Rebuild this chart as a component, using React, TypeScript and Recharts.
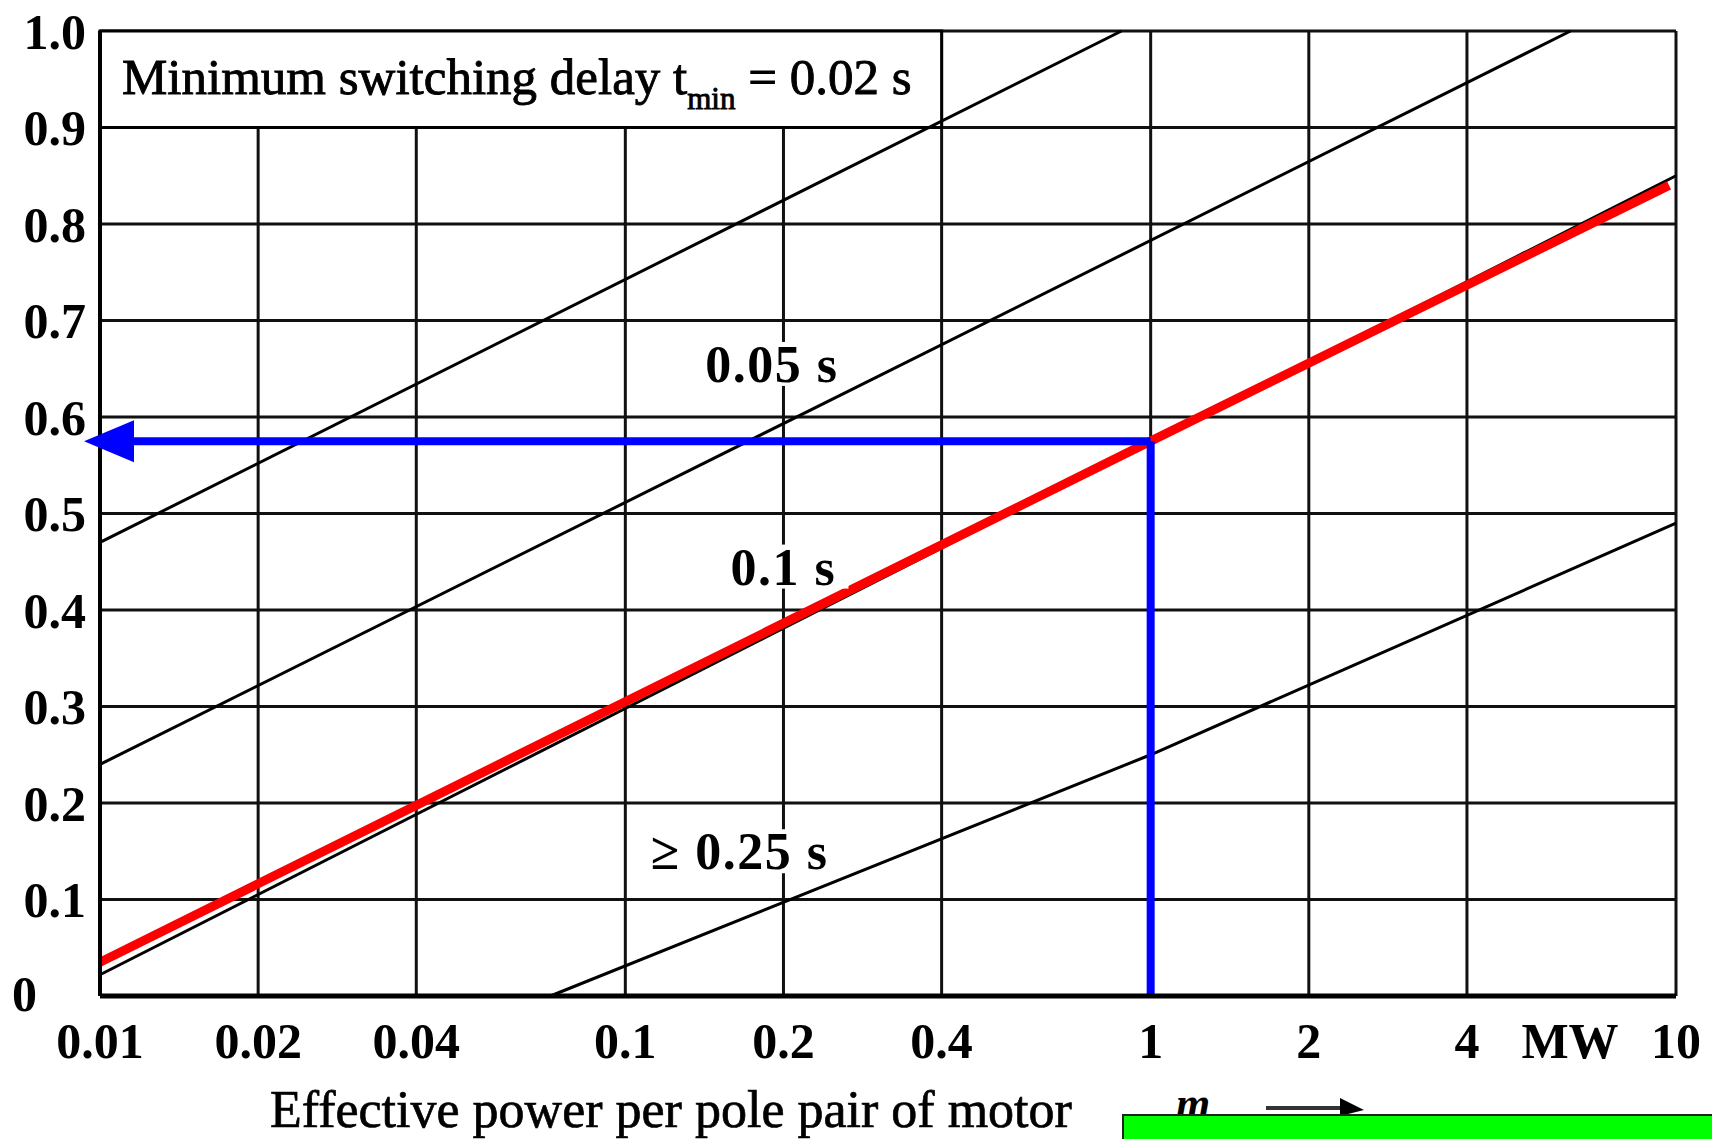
import { LineChart, Line, XAxis, YAxis, CartesianGrid, ReferenceArea, ReferenceDot } from "recharts";

// effective power per pole pair [MW] vs. value
const xTicks = [0.01, 0.02, 0.04, 0.1, 0.2, 0.4, 1, 2, 4, 10];
const yTicks = [0, 0.1, 0.2, 0.3, 0.4, 0.5, 0.6, 0.7, 0.8, 0.9, 1.0];

const curve002 = [{ p: 0.01, v: 0.47 }, { p: 0.88, v: 1.0 }];
const curve005 = [{ p: 0.01, v: 0.24 }, { p: 6.3, v: 1.0 }];
const curve01 = [{ p: 0.01, v: 0.022 }, { p: 10, v: 0.85 }];
const curve025 = [{ p: 0.072, v: 0 }, { p: 1, v: 0.25 }, { p: 10, v: 0.49 }];

const redLine = [{ p: 0.01, v: 0.035 }, { p: 1, v: 0.575 }, { p: 9.7, v: 0.84 }];
const blueVertical = [{ p: 1, v: 0 }, { p: 1, v: 0.575 }];
const blueHorizontal = [{ p: 0.01, v: 0.575 }, { p: 1, v: 0.575 }];

const curveLabels = [
  { text: "0.05 s", p: 0.19, v: 0.655 },
  { text: "0.1 s", p: 0.2, v: 0.445 },
  { text: "\u2265 0.25 s", p: 0.165, v: 0.15 },
];

const FONT = "'Liberation Serif', 'DejaVu Serif', serif";

function XTick({ x, y, payload }: any) {
  const v = payload.value;
  return (
    <g>
      <text x={x} y={y + 60} textAnchor="middle" fontFamily={FONT} fontSize={50} fontWeight={700} fill="#000">
        {String(v)}
      </text>
      {v === 10 && (
        <text x={x - 106} y={y + 60} textAnchor="middle" fontFamily={FONT} fontSize={50} fontWeight={700} fill="#000">
          MW
        </text>
      )}
    </g>
  );
}

function YTick({ x, y, payload }: any) {
  const v = payload.value;
  if (v === 0) {
    return (
      <text x={12} y={y} dy="0.3em" textAnchor="start" fontFamily={FONT} fontSize={50} fontWeight={700} fill="#000">
        0
      </text>
    );
  }
  return (
    <text x={x - 12} y={y} dy="0.35em" textAnchor="end" fontFamily={FONT} fontSize={50} fontWeight={700} fill="#000">
      {v.toFixed(1)}
    </text>
  );
}

function TitleLabel(props: any) {
  const { x, y } = props.viewBox;
  return (
    <text x={x + 22} y={y + 63} fontFamily={FONT} fontSize={51} fill="#000" stroke="#000" strokeWidth={0.9}>
      Minimum switching delay t
      <tspan fontSize={31} dy={15}>min</tspan>
      <tspan fontSize={51} dy={-15}> = 0.02 s</tspan>
    </text>
  );
}

function makeCurveLabel(text: string) {
  return (props: any) => {
    const { x, y, width, height } = props.viewBox;
    const cx = x + width / 2;
    const cy = y + height / 2;
    const w = text.length * 26;
    return (
      <g>
        <rect x={cx - w / 2} y={cy - 22} width={w} height={44} fill="#fff" />
        <text
          x={cx}
          y={cy}
          dy="0.35em"
          textAnchor="middle"
          fontFamily={FONT}
          fontSize={52}
          fontWeight={700}
          letterSpacing={1.5}
          fill="#000"
        >
          {text}
        </text>
      </g>
    );
  };
}

function ArrowDot(props: any) {
  const { cx, cy, index } = props;
  if (index !== 0) return <g key={`ad-${index}`} />;
  return (
    <polygon
      key={`ad-${index}`}
      points={`${cx - 16},${cy} ${cx + 34},${cy - 21} ${cx + 34},${cy + 21}`}
      fill="#0000ff"
    />
  );
}

export default function App() {
  return (
    <div style={{ position: "fixed", left: 0, top: 0, width: 1712, height: 1139, background: "#fff", overflow: "hidden" }}>
      <LineChart width={1712} height={1139} margin={{ top: 31, right: 36, bottom: 0, left: 0 }}>
        <CartesianGrid stroke="#111" strokeWidth={3} />
        <XAxis
          dataKey="p"
          type="number"
          scale="log"
          domain={[0.01, 10]}
          ticks={xTicks}
          height={143}
          tickSize={0}
          tickLine={false}
          axisLine={{ stroke: "#000", strokeWidth: 5 }}
          tick={<XTick />}
          interval={0}
        />
        <YAxis
          dataKey="v"
          type="number"
          domain={[0, 1]}
          ticks={yTicks}
          width={100}
          tickSize={0}
          tickLine={false}
          axisLine={{ stroke: "#000", strokeWidth: 4 }}
          tick={<YTick />}
          interval={0}
        />
        <ReferenceArea
          x1={0.01}
          x2={0.4}
          y1={0.9}
          y2={1.0}
          fill="#fff"
          fillOpacity={1}
          stroke="#000"
          strokeWidth={3}
          ifOverflow="visible"
          label={TitleLabel}
        />
        <Line data={curve002} dataKey="v" stroke="#000" strokeWidth={3} dot={false} isAnimationActive={false} />
        <Line data={curve005} dataKey="v" stroke="#000" strokeWidth={3} dot={false} isAnimationActive={false} />
        <Line data={curve01} dataKey="v" stroke="#000" strokeWidth={3} dot={false} isAnimationActive={false} />
        <Line data={curve025} dataKey="v" stroke="#000" strokeWidth={3} dot={false} isAnimationActive={false} />
        <Line data={redLine} dataKey="v" stroke="#ff0000" strokeWidth={9} dot={false} isAnimationActive={false} />
        <Line data={blueVertical} dataKey="v" stroke="#0000ff" strokeWidth={8} dot={false} isAnimationActive={false} />
        <Line data={blueHorizontal} dataKey="v" stroke="#0000ff" strokeWidth={8} dot={<ArrowDot />} isAnimationActive={false} />
        {curveLabels.map((l) => (
          <ReferenceDot
            key={l.text}
            x={l.p}
            y={l.v}
            r={1}
            fill="none"
            stroke="none"
            ifOverflow="visible"
            label={makeCurveLabel(l.text)}
          />
        ))}
      </LineChart>
      <div
        style={{
          position: "absolute",
          left: 270,
          top: 1084,
          fontFamily: FONT,
          fontSize: 52,
          lineHeight: "52px",
          color: "#000",
          whiteSpace: "nowrap",
          WebkitTextStroke: "0.7px #000",
        }}
      >
        Effective power per pole pair of motor
      </div>
      <div
        style={{
          position: "absolute",
          left: 1176,
          top: 1082,
          fontFamily: FONT,
          fontSize: 44,
          fontStyle: "italic",
          fontWeight: 700,
          lineHeight: "44px",
          color: "#000",
        }}
      >
        m
      </div>
      <svg style={{ position: "absolute", left: 1260, top: 1096 }} width={110} height={24}>
        <line x1={6} y1={12} x2={84} y2={12} stroke="#333" strokeWidth={4} />
        <polygon points="80,2 104,14 80,20" fill="#000" />
      </svg>
      <div
        style={{
          position: "absolute",
          left: 1122,
          top: 1114,
          width: 600,
          height: 40,
          background: "#00ff00",
          borderTop: "2px solid #222",
          borderLeft: "2px solid #222",
        }}
      />
    </div>
  );
}
